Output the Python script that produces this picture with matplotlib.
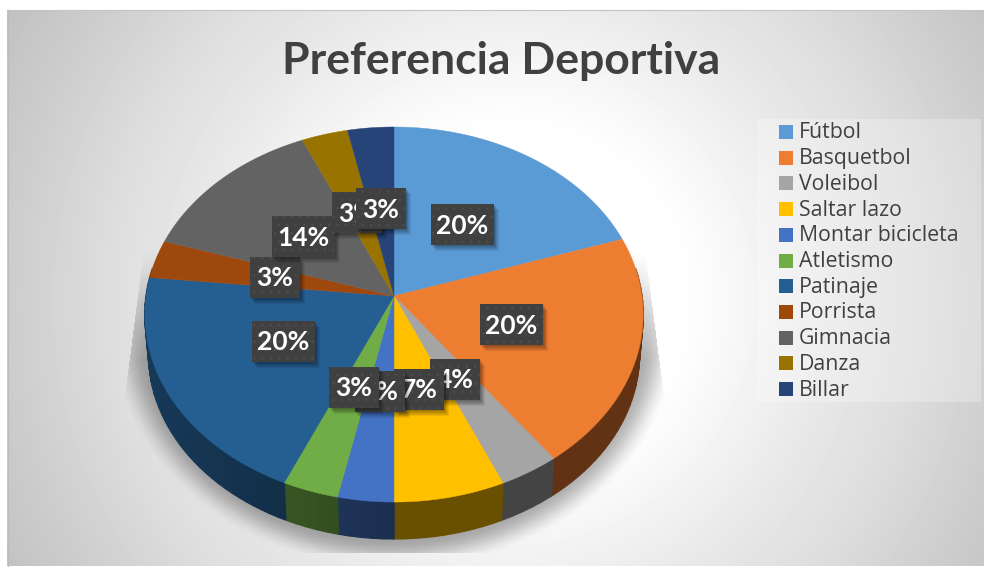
#!/usr/bin/env python3
# -*- coding: utf-8 -*-
import numpy as np
import matplotlib
matplotlib.use('Agg')
import matplotlib.pyplot as plt
from matplotlib.patches import Polygon, Rectangle

# data
deportes = ['Fútbol', 'Basquetbol', 'Voleibol', 'Saltar lazo', 'Montar bicicleta',
            'Atletismo', 'Patinaje', 'Porrista', 'Gimnacia', 'Danza', 'Billar']
valores = [19.9, 20.0, 3.55, 6.55, 3.3, 3.3, 20.0, 3.3, 13.5, 3.3, 3.3]
colores = ['#5B9BD5', '#ED7D31', '#A5A5A5', '#FFC000', '#4472C4', '#70AD47',
           '#255E91', '#9E480E', '#636363', '#997300', '#264478']

# left, top of each label box, in pixels
cajas = [(431, 204), (480, 304), (430, 359), (394, 369), (355, 371), (329, 367),
         (252, 321), (250, 257), (272, 216), (332, 192), (356, 188)]

W, H = 984, 580
CX, CY = 394, 296
RX, A, K = 248, 185.7, 0.0987
PROF = 40

fig = plt.figure(figsize=(W / 100, H / 100), dpi=100)
ax = fig.add_axes([0, 0, 1, 1])
ax.set_xlim(0, W)
ax.set_ylim(H, 0)
ax.axis('off')


def tapa(theta, dy=0, esc=1.0):
    # theta clockwise from the top, circle seen in perspective
    u = np.sin(theta)
    v = -np.cos(theta)
    w = 1 - K * v
    return CX + esc * RX * u / w, CY + dy + esc * A * v / w


def oscuro(color, f):
    return tuple(c * f for c in matplotlib.colors.to_rgb(color))


# background
yy, xx = np.mgrid[0:H, 0:W]
r = np.hypot(xx - 510, yy - 300)
gris = np.interp(r, [0, 170, 220, 320, 400, 500, 600], [255, 255, 248, 232, 222, 205, 190]) / 255.0
ax.imshow(gris, cmap='gray', vmin=0, vmax=1, extent=(0, W, H, 0), aspect='auto',
          interpolation='bilinear', zorder=0)
for rect in [(0, 0, 7, H), (0, 0, W, 10), (0, 566, W, 14)]:
    ax.add_patch(Rectangle(rect[:2], rect[2], rect[3], fc='white', ec='none', zorder=1))
ax.plot([7, W], [9.5, 9.5], color='#c4c4c4', lw=0.8, zorder=1)
ax.plot([7.5, 7.5], [10, 566], color='#bcbcbc', lw=0.8, zorder=1)

# shadow under the pie, cut by slanted sides and a flat bottom
d = np.hypot((xx - 394) / 285.0, (yy - 330) / 240.0)
alfa = np.clip((1 - d) / 0.13, 0, 1)
alfa = alfa * alfa * (3 - 2 * alfa) * 0.32
borde_izq = 146 - (yy - 230) * 0.13
borde_der = 642 + (yy - 230) * 0.13
alfa[(xx < borde_izq) | (xx > borde_der) | (yy > 552)] = 0
alfa *= np.clip((yy - 250) / 110.0, 0, 1)
sombra = np.zeros((H, W, 4))
sombra[..., 3] = alfa
ax.imshow(sombra, extent=(0, W, H, 0), aspect='auto', interpolation='bilinear', zorder=2)
ax.set_xlim(0, W)
ax.set_ylim(H, 0)

# pie
total = sum(valores)
bordes = np.concatenate([[0], np.cumsum(valores)]) / total * 2 * np.pi

for i, color in enumerate(colores):
    t0, t1 = max(bordes[i], np.pi / 2 - 0.15), bordes[i + 1]
    t1 = min(t1, 3 * np.pi / 2 + 0.15)
    if t1 <= t0:
        continue
    t = np.linspace(t0, t1, max(2, int((t1 - t0) * 30)))
    for a, b in zip(t[:-1], t[1:]):
        xa, ya = tapa(np.array([a, b]))
        xb, yb = tapa(np.array([b, a]), PROF, 0.985)
        # left part of the wall catches more light
        f = 0.41 + 0.2 * np.clip((CX - xa[0]) / RX, 0, 1)
        c = oscuro(color, f)
        ax.add_patch(Polygon(np.c_[np.r_[xa, xb], np.r_[ya, yb]], fc=c, ec=c, lw=1.0, zorder=3))

for i, color in enumerate(colores):
    t = np.linspace(bordes[i], bordes[i + 1], 80)
    x, y = tapa(t)
    ax.add_patch(Polygon(np.c_[np.r_[CX, x], np.r_[CY, y]], fc=color, ec=color, lw=0.3, zorder=4))

# labels, later ones sit on top of earlier ones
plt.rcParams['hatch.linewidth'] = 0.5
for i, (v, caja) in enumerate(zip(valores, cajas)):
    txt = '%.0f%%' % v
    ancho = 63 if len(txt) == 3 else 50
    alto = 41
    z = 5 + i * 0.1
    for k in range(6):
        ax.add_patch(Rectangle((caja[0] + 1 + k * 0.7, caja[1] + 1 + k * 0.9), ancho, alto,
                               fc='black', ec='none', alpha=0.07, zorder=z))
    ax.add_patch(Rectangle(caja, ancho, alto, fc='#404040', ec='#4e4e4e', hatch='..',
                           lw=0, zorder=z + 0.01))
    ax.text(caja[0] + ancho / 2, caja[1] + alto / 2 + 1, txt, color='white', fontsize=19,
            family='Lato', weight='bold', ha='center', va='center', zorder=z + 0.02)

# title
ax.text(501, 61, 'Preferencia Deportiva', color='#404040', fontsize=32, family='Lato',
        weight='bold', ha='center', va='center', zorder=6)

# legend
ax.add_patch(Rectangle((757, 119), 224, 283, fc='white', ec='none', alpha=0.25, zorder=3))
for i, (nombre, color) in enumerate(zip(deportes, colores)):
    yl = 132 + i * 25.7
    ax.add_patch(Rectangle((779, yl - 7), 14, 14, fc=color, ec='none', zorder=4))
    ax.text(799, yl + 1, nombre, color='#404040', fontsize=15.3, family='Open Sans',
            ha='left', va='center', zorder=4)

fig.savefig('out.png', dpi=100)
